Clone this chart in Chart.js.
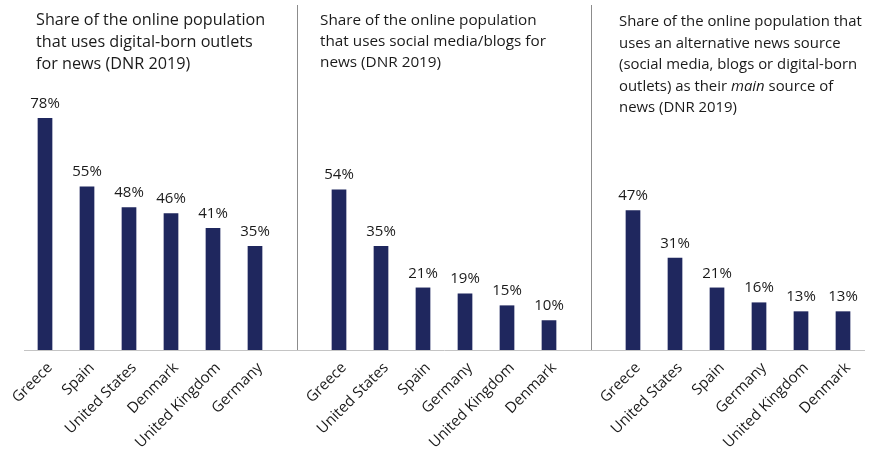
<!DOCTYPE html>
<html lang="en">
<head>
  <meta charset="UTF-8">
  <title>Alternative news sources (DNR 2019)</title>
  <style>
    html, body {
      margin: 0;
      padding: 0;
      background: #fff;
    }

    .wrap {
      position: relative;
      width: 870px;
      height: 455px;
    }

    .panel-title {
      position: absolute;
      top: 8px;
      font-family: "Open Sans", sans-serif;
      font-size: 16px;
      line-height: 22px;
      color: #1a1a1a;
      white-space: nowrap;
    }
  </style>
</head>
<body>
  <div class="wrap">
    <canvas id="newsChart" width="870" height="455"></canvas>
    <div class="panel-title" style="left: 36px; font-size: 16.2px;">Share of the online population<br>that uses digital-born outlets<br>for news (DNR 2019)</div>
    <div class="panel-title" style="left: 320px; font-size: 15.3px; line-height: 21px; top: 9px;">Share of the online population<br>that uses social media/blogs for<br>news (DNR 2019)</div>
    <div class="panel-title" style="left: 619px; font-size: 14.9px; line-height: 21.5px; top: 10px;">Share of the online population that<br>uses an alternative news source<br>(social media, blogs or digital-born<br>outlets) as their <i>main</i> source of<br>news (DNR 2019)</div>
  </div>

  <script src="https://cdn.jsdelivr.net/npm/chart.js"></script>
  <script>
    // digital-born outlets
    const digitalCountries = ['Greece', 'Spain', 'United States', 'Denmark', 'United Kingdom', 'Germany'];
    const digitalShare = [78, 55, 48, 46, 41, 35];

    // social media / blogs
    const socialCountries = ['Greece', 'United States', 'Spain', 'Germany', 'United Kingdom', 'Denmark'];
    const socialShare = [54, 35, 21, 19, 15, 10];

    // alternative source as main source
    const mainCountries = ['Greece', 'United States', 'Spain', 'Germany', 'United Kingdom', 'Denmark'];
    const mainShare = [47, 31, 21, 16, 13, 13];

    // one category axis for all three groups, with an empty slot between groups
    const labels = [...digitalCountries, '', ...socialCountries, '', ...mainCountries];
    const values = [...digitalShare, null, ...socialShare, null, ...mainShare];
    const gapIndexes = [digitalCountries.length, digitalCountries.length + 1 + socialCountries.length];

    const barColor = '#1f275e';
    const fontFamily = '"Open Sans", sans-serif';

    // percentage labels above each bar
    const valueLabels = {
      id: 'valueLabels',
      afterDatasetsDraw(chart) {
        const ctx = chart.ctx;
        const meta = chart.getDatasetMeta(0);
        ctx.save();
        ctx.font = '15px ' + fontFamily;
        ctx.fillStyle = '#1a1a1a';
        ctx.textAlign = 'center';
        ctx.textBaseline = 'alphabetic';
        meta.data.forEach((bar, i) => {
          const v = chart.data.datasets[0].data[i];
          if (v === null) return;
          ctx.fillText(v + '%', bar.x, bar.y - 10);
        });
        ctx.restore();
      }
    };

    const ctx = document.getElementById('newsChart').getContext('2d');
    new Chart(ctx, {
      type: 'bar',
      data: {
        labels: labels,
        datasets: [{
          data: values,
          backgroundColor: barColor,
          categoryPercentage: 1,
          barPercentage: 0.35
        }]
      },
      options: {
        responsive: false,
        animation: false,
        layout: {
          padding: { left: 24, right: 6, top: 5, bottom: 0 }
        },
        plugins: {
          legend: { display: false },
          tooltip: { enabled: false }
        },
        scales: {
          x: {
            afterFit(scale) {
              scale.height = 105;
            },
            grid: {
              offset: false,
              drawTicks: false,
              lineWidth: 1,
              color: (c) => gapIndexes.includes(c.index) ? '#8c8c8c' : 'rgba(0,0,0,0)'
            },
            border: {
              display: true,
              color: '#c4c4c4',
              width: 1
            },
            ticks: {
              autoSkip: false,
              minRotation: 45,
              maxRotation: 45,
              padding: 9,
              labelOffset: 5,
              color: '#1a1a1a',
              font: { family: fontFamily, size: 15 }
            }
          },
          y: {
            display: false,
            min: 0,
            max: 116
          }
        }
      },
      plugins: [valueLabels]
    });
  </script>
</body>
</html>
